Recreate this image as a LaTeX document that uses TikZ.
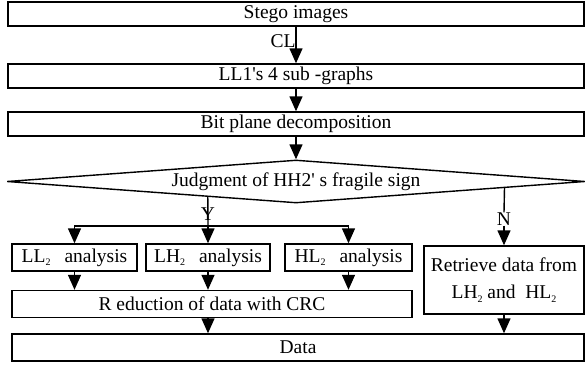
\documentclass[tikz,border=0pt]{standalone}
\usepackage{fontspec}
\newfontfamily\tnr{Liberation Serif}
\usetikzlibrary{arrows.meta,shapes.geometric,calc}
\newcommand{\sbt}[1]{\raisebox{-3.5pt}{\fontsize{10}{10}\selectfont #1}}
\begin{document}
\begin{tikzpicture}[x=1pt,y=-1pt,
  txt/.style={font=\tnr\fontsize{19.5}{27}\selectfont},
  box/.style={txt,draw,line width=1.4pt,rectangle,inner sep=0pt},
  ln/.style={line width=1.4pt},
  arr/.style={line width=1.4pt,-{Triangle[length=15pt,width=13pt]}},
  lbl/.style={txt,inner sep=0pt}]
\useasboundingbox (0,0) rectangle (586,364);
\node[box,minimum width=576pt,minimum height=24pt] (stego) at (296,14) {Stego images};
\node[box,minimum width=576pt,minimum height=24pt] (ll1) at (296,76) {LL1's 4 sub -graphs};
\node[box,minimum width=576pt,minimum height=24pt] (bit) at (296,124) {Bit plane decomposition};
\node[txt,diamond,draw,line width=1.4pt,aspect=13.4,inner sep=0pt,minimum width=578pt,minimum height=43pt] (dia) at (296,181.5) {Judgment of HH2' s fragile sign};
\node[box,minimum width=125pt,minimum height=27pt] (ll2) at (74.5,257.5) {LL\sbt{2}\hspace{14pt}analysis};
\node[box,minimum width=124pt,minimum height=27pt] (lh2) at (208,257.5) {LH\sbt{2}\hspace{14pt}analysis};
\node[box,minimum width=127pt,minimum height=27pt] (hl2) at (348.5,257.5) {HL\sbt{2}\hspace{14pt}analysis};
\node[box,minimum width=160pt,minimum height=68pt,align=center] (ret) at (504,280) {Retrieve data from\\LH\sbt{2} and\ \ HL\sbt{2}};
\node[box,minimum width=400pt,minimum height=27pt] (red) at (212,304) {R eduction of data with CRC};
\node[box,minimum width=572pt,minimum height=27pt] (data) at (298,347.5) {Data};
% labels
\node[lbl] (cl) at (283,41) {CL};
\node[lbl] (y) at (208,214) {Y};
\node[lbl] (n) at (504,219) {N};
% connectors
\draw[arr] (stego) -- (ll1);
\draw[arr] (ll1) -- (bit);
\draw[arr] (bit) -- (dia);
\coordinate (ys) at ($(dia.south)!0.3045!(dia.west)$);
\coordinate (j) at (208,226);
\draw[ln] (ys) -- (j);
\draw[arr] (j) -- (lh2.north);
\draw[arr] (j) -| (ll2.north);
\draw[arr] (j) -| (hl2.north);
\coordinate (ns) at ($(dia.south)!0.7197!(dia.east)$);
\draw[ln] (ns) -- (n.north);
\draw[arr] (n.south) -- (ret.north);
\draw[arr] (ll2.south) -- (ll2.south |- red.north);
\draw[arr] (lh2.south) -- (lh2.south |- red.north);
\draw[arr] (hl2.south) -- (hl2.south |- red.north);
\draw[arr] (lh2.south |- red.south) -- (lh2.south |- data.north);
\draw[arr] (ret.south) -- (ret.south |- data.north);
\end{tikzpicture}
\end{document}
